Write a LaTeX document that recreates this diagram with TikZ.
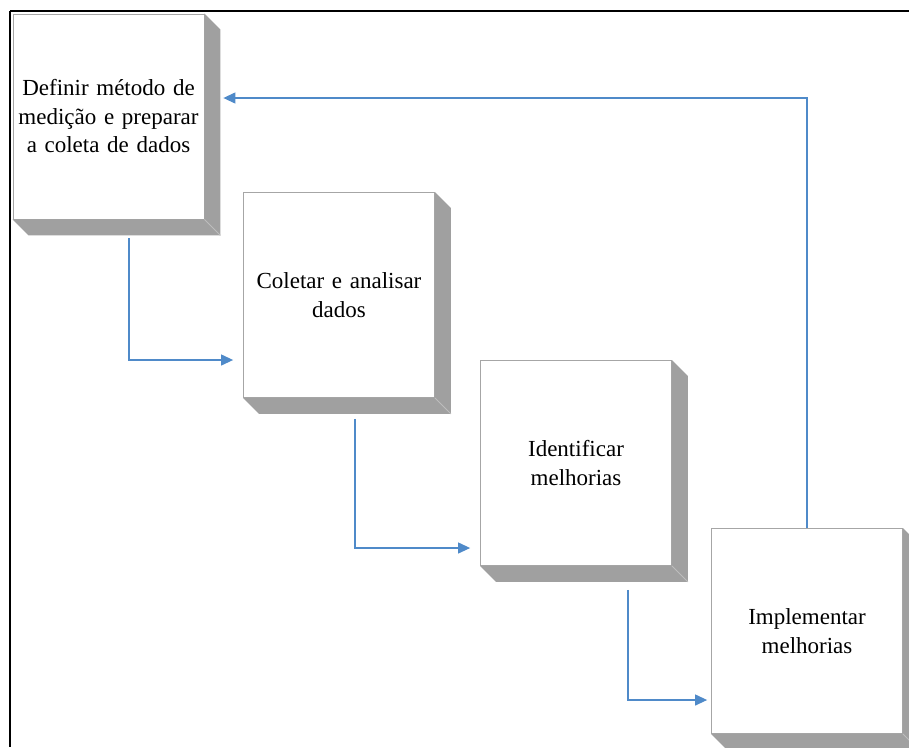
\documentclass[tikz,border=0pt]{standalone}
\usepackage{fontspec}
\setmainfont[WordSpace=0.8]{Liberation Serif}
\usetikzlibrary{arrows.meta,calc}
\definecolor{sidegray}{HTML}{A0A0A0}
\definecolor{edgegray}{HTML}{A6A6A6}
\definecolor{bevelgray}{HTML}{BDBDBD}
\definecolor{flowblue}{HTML}{4F8AC9}
\tikzset{
  stepbox/.style={draw=edgegray, line width=0.8pt, fill=white, rectangle,
    minimum width=191pt, minimum height=205pt, inner sep=0pt,
    text width=185pt, align=center,
    font=\fontsize{23pt}{28.5pt}\selectfont},
  flow/.style={draw=flowblue, line width=1.2pt,
    -{Triangle[length=12pt,width=11pt]}},
  frameline/.style={draw=black, line width=2.6pt}
}
% raised edge of a box: right face and bottom face
\newcommand{\boxdepth}[1]{%
  \fill[sidegray] (#1.north east) -- ++(16,16) -- ($(#1.south east)+(16,16)$) -- (#1.south east) -- cycle;
  \fill[sidegray] (#1.south west) -- (#1.south east) -- ++(16,16) -- ($(#1.south west)+(16,16)$) -- cycle;
  \draw[bevelgray, line width=0.8pt] (#1.south east) -- ++(16,16);
}
\begin{document}
\begin{tikzpicture}[x=1pt,y=-1pt]
  \useasboundingbox (0,0) rectangle (909,747);
  \fill[white] (0,0) rectangle (909,747);

  % outer frame (top and left edges)
  \draw[frameline] (10,11) -- (909,11);
  \draw[frameline] (10,11) -- (10,747);

  % process steps
  \node[stepbox] (b1) at (108.5,116.5) {Definir método de\\medição e preparar\\a coleta de dados};
  \node[stepbox] (b2) at (339,295) {Coletar e analisar\\dados};
  \node[stepbox] (b3) at (576,463) {Identificar\\melhorias};
  \node[stepbox] (b4) at (807,631) {Implementar\\melhorias};

  \boxdepth{b1}
  \boxdepth{b2}
  \boxdepth{b3}
  \boxdepth{b4}

  % flow between the steps
  \draw[flow] ($(b1.south)+(20.5,19)$) |- ($(b2.west)+(-10,65)$);
  \draw[flow] ($(b2.south)+(16,21)$) |- ($(b3.west)+(-10,85)$);
  \draw[flow] ($(b3.south)+(52,24)$) |- ($(b4.west)+(-4,69)$);
  \draw[flow] (b4.north) |- ($(b1.east)+(19,-18.5)$);
\end{tikzpicture}
\end{document}
